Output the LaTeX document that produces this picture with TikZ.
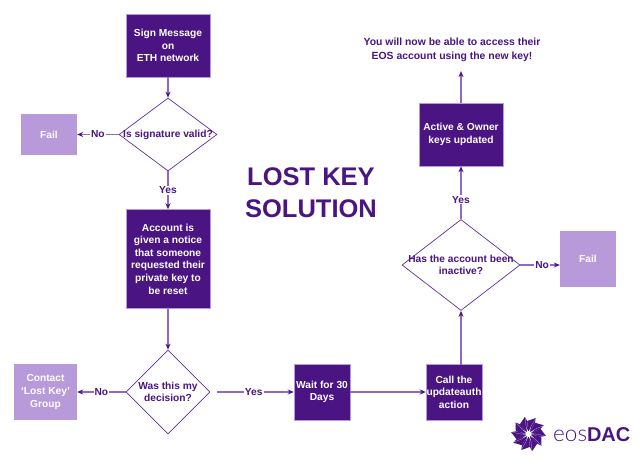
\documentclass[tikz,border=0pt]{standalone}
\usepackage{fontspec}
\setmainfont{Liberation Sans}
\newfontfamily\logofont{Lato Light}
\usetikzlibrary{arrows,arrows.meta,positioning,shapes}
\definecolor{colordark}{HTML}{4A1482}
\definecolor{colorlight}{HTML}{B89ADB}
\definecolor{colorline}{HTML}{9268C2}
\definecolor{colorborder}{HTML}{5F2E9E}
\tikzstyle{every node}=[font=\bfseries\fontsize{10.2}{12.6}\selectfont, align=center]
\tikzstyle{location}=[rectangle, minimum width=84pt, draw=colorlight, line width=0.5pt, fill=colordark, text=white, inner sep=0pt]
\tikzstyle{smallloc}=[location, minimum width=56pt, minimum height=56pt]
\tikzstyle{fail}=[rectangle, minimum width=56pt, minimum height=41pt, fill=colorlight, text=white, inner sep=0pt]
\tikzstyle{decision}=[diamond, draw=colorborder, line width=0.7pt, inner sep=0pt, fill=white]
\tikzstyle{flow}=[-{Stealth[colordark, length=6pt, width=5pt]}, draw=colorline, line width=1.1pt]
\tikzstyle{answer}=[fill=white, text=colordark, inner sep=1pt]
\tikzstyle{dectext}=[text=colordark, inner sep=0pt, align=center]
\begin{document}
\begin{tikzpicture}[x=1pt, y=-1pt]
	\useasboundingbox (0, 0) rectangle (640, 465);
	
	\node[location, minimum height=63pt] at (168, 45.5) (sign) {Sign Message\\on\\ETH network};
	
	\node[decision, minimum width=98pt, minimum height=73pt, label={[dectext]center:Is signature valid?}] at (168, 134.5) (valid) {};
	
	\node[fail] at (49, 134.5) (fail1) {Fail};
	
	\node[location, minimum height=99pt] at (168, 259) (notice) {Account is\\given a notice\\that someone\\requested their\\private key to\\be reset};
	
	\node[decision, minimum width=84pt, minimum height=84pt, label={[dectext]center:Was this my\\decision?}] at (168, 392) (mine) {};
	
	\node[fail, minimum width=63pt, minimum height=56pt] at (45.5, 392) (contact) {Contact\\`Lost Key'\\Group};
	
	\node[smallloc] at (322, 392) (wait) {Wait for 30\\Days};
	
	\node[smallloc] at (454, 392) (call) {Call the\\updateauth\\action};
	
	\node[decision, minimum width=118pt, minimum height=91pt, label={[dectext]center:Has the account been\\inactive?}] at (461, 265) (inactive) {};
	
	\node[fail, minimum height=56pt] at (588, 259) (fail2) {Fail};
	
	\node[location, minimum height=63pt] at (461, 134.5) (keys) {Active \& Owner\\keys updated};
	
	\node[text=colordark, inner sep=0pt, font=\bfseries\fontsize{10.4}{14}\selectfont] at (452, 50) (done) {You will now be able to access their\\EOS account using the new key!};
	
	\node[text=colordark, inner sep=0pt, font=\bfseries\fontsize{25.5}{32}\selectfont] at (311, 193) (title) {LOST KEY\\SOLUTION};
	
	\path[flow] (sign) edge (valid);
	\path[flow] (valid) edge node[answer]{No} (fail1);
	\path[flow] (valid) edge node[answer]{Yes} (notice);
	\path[flow] (notice) edge (mine);
	\path[flow] (mine) edge node[answer]{No} (contact);
	\path[flow] (mine) edge[shorten <=7pt] node[answer, pos=0.52]{Yes} (wait);
	\path[flow] (wait) edge (call);
	\path[flow] (call.north -| inactive) edge (inactive);
	\path[flow] (inactive) edge node[answer, pos=0.55]{No} (inactive -| fail2.west);
	\path[flow] (inactive) edge node[answer, pos=0.37]{Yes} (keys);
	\path[flow] (keys) edge[shorten >=9pt] (done.south -| keys);
	
	% logo
	\begin{scope}[shift={(528.5, 434)}]
		\foreach \a in {0,36,...,324} {
			\fill[colordark] (0, 0) -- (\a-24:13) -- (\a+6:17.5) -- (\a+12:13) -- cycle;
			\fill[white] (\a-12:2.5) -- (\a:8) -- (\a+12:2.5) -- cycle;
			\draw[colorlight, line width=0.3pt] (\a:8) -- (\a+6:16);
		}
		\fill[white] (0, 0) circle (3);
	\end{scope}
	\node[anchor=base west, inner sep=0pt, text=colordark, font=\fontsize{20}{24}\selectfont] at (553, 441) (logo) {{\logofont\fontsize{22.5}{24}\selectfont eos}\textbf{DAC}};
\end{tikzpicture}
\end{document}
